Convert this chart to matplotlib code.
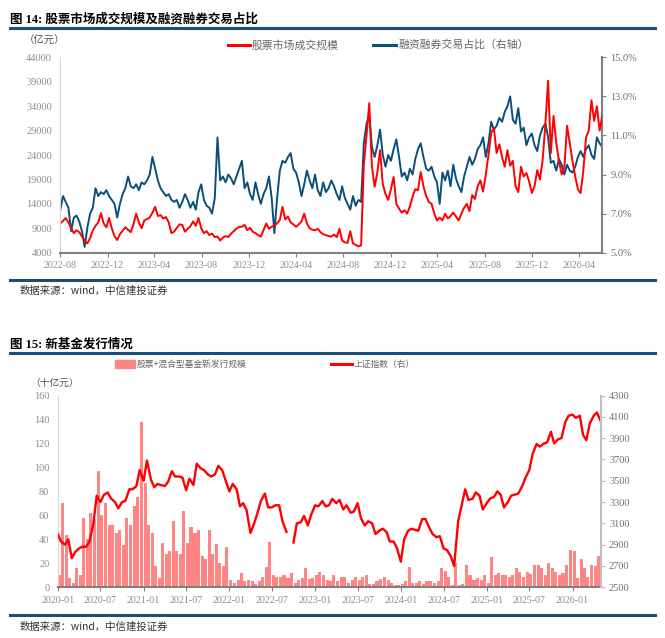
import numpy as np
import pandas as pd
import matplotlib
matplotlib.use('Agg')
import matplotlib.pyplot as plt
import matplotlib.dates as mdates
from matplotlib.lines import Line2D
from matplotlib.patches import Rectangle
from matplotlib.ticker import FuncFormatter

plt.rcParams['font.family'] = ['Liberation Serif', 'Noto Sans CJK SC']

# ---- 图14: weekly readings from 2022-08-01 ----
turnover = [  # 股票市场成交规模, 亿元
    10000, 10500, 11100, 10200, 9000, 8000, 8600, 8200, 7300, 6400,
    5900, 7000, 8600, 9500, 10200, 12100, 10000, 9200, 11100, 9000,
    7400, 6600, 7800, 8500, 9200, 8700, 8200, 9800, 12000, 10200,
    9000, 10600, 10900, 11200, 12200, 13400, 11500, 11700, 11000, 11300,
    10200, 8000, 8300, 9100, 9800, 9700, 8300, 8900, 9400, 10400,
    9500, 11100, 9000, 8000, 8400, 7600, 7900, 7200, 7300, 6500,
    7100, 7400, 7200, 7900, 8400, 8900, 9300, 9300, 9700, 8600,
    9100, 8300, 8000, 7600, 7300, 8600, 10000, 8900, 9300, 9600,
    10000, 10700, 13400, 10800, 11400, 10200, 9800, 9300, 9800, 10400,
    12000, 10000, 9000, 8700, 8600, 8900, 8200, 7800, 7600, 7400,
    7300, 7700, 7200, 8900, 6500, 6100, 6000, 8400, 5900, 5600,
    5300, 5500, 22000, 28000, 34600, 21600, 17500, 20500, 25000, 18000,
    16000, 14800, 17000, 19500, 14000, 13000, 12200, 12700, 12000, 13500,
    15500, 17000, 16800, 20500, 17600, 15600, 14400, 14000, 12000, 10600,
    11200, 10600, 12000, 11000, 11500, 12200, 11400, 10600, 12000, 13200,
    14000, 12500, 15800, 15000, 17600, 18800, 16500, 20000, 24000, 28500,
    29500, 24400, 26200, 23600, 21600, 25000, 21800, 22800, 17600, 16400,
    21600, 19600, 20300, 18600, 16200, 17600, 20900, 19000, 23000, 30400,
    39200, 24400, 32000, 26500, 22800, 20000, 21500, 30000, 26400, 22800,
    19600, 17000, 16200, 20800, 27600, 29000, 35200, 31000, 34000, 29000,
    32000,
]
margin_share = [  # 融资融券交易占比, %
    7.2, 7.9, 7.6, 7.3, 6.1, 6.8, 6.9, 6.6, 6.1, 5.3,
    6.3, 7.0, 7.3, 8.3, 7.9, 8.1, 8.0, 8.2, 7.9, 7.7,
    7.5, 6.8, 7.5, 8.0, 8.3, 8.9, 8.4, 8.3, 8.5, 8.2,
    8.6, 8.5, 8.7, 9.0, 9.9, 9.3, 8.7, 8.3, 8.1, 7.9,
    8.0, 7.7, 7.6, 7.7, 7.3, 7.6, 8.0, 7.7, 7.3, 7.6,
    7.2, 8.1, 8.5, 7.7, 7.4, 7.3, 7.0, 7.8, 10.9, 8.7,
    8.9, 8.6, 9.0, 8.8, 8.5, 8.9, 9.3, 9.7, 8.3, 8.6,
    8.0, 7.7, 8.6, 8.0, 7.5, 8.0, 8.3, 8.9, 7.8, 6.0,
    7.8, 9.2, 9.7, 9.6, 9.9, 10.1, 9.3, 9.1, 8.6, 7.9,
    8.5, 9.2, 8.7, 8.3, 9.0, 8.2, 7.9, 8.6, 8.1, 8.3,
    8.7, 8.4, 8.0, 7.7, 8.4, 7.8, 7.5, 7.2, 7.9, 7.4,
    7.7, 7.6, 10.6, 11.6, 12.0, 10.4, 9.9, 10.5, 11.3, 10.0,
    9.4, 10.0, 9.7, 10.3, 10.8, 9.9, 8.9, 9.1, 8.7, 9.3,
    9.0, 9.8, 10.3, 10.6, 9.9, 9.3, 9.2, 9.4, 8.9, 8.6,
    7.5, 9.1, 8.7, 9.2, 8.4, 9.5, 8.8, 8.4, 8.1, 8.9,
    9.4, 9.9, 9.5, 9.8, 10.3, 10.5, 10.9, 9.9, 10.6, 11.7,
    11.3, 11.5, 11.9, 11.7, 12.2, 12.5, 13.0, 11.8, 11.6, 12.4,
    11.2, 11.4, 10.5, 10.9, 11.1, 10.5, 10.2, 11.0, 11.4, 11.6,
    10.9, 9.6, 9.7, 9.2, 9.8, 9.5, 9.0, 9.5, 9.2, 9.1,
    9.4, 9.9, 10.2, 9.9, 10.3, 10.5, 10.0, 9.8, 10.9, 10.6,
    10.4,
]
left_ticks_14 = [4000, 9000, 14000, 19000, 24000, 29000, 34000, 39000, 44000]
right_ticks_14 = [5, 7, 9, 11, 13, 15]

# ---- 图15: semi-monthly readings from 2020-01-01 ----
sse = [  # 上证指数
    3000, 2930, 2900, 2950, 2772, 2830, 2866, 2881, 2880, 2928,
    3100, 3360, 3300, 3366, 3390, 3334, 3300, 3240, 3300, 3310,
    3420, 3420, 3450, 3600, 3500, 3690, 3510, 3440, 3470, 3460,
    3450, 3490, 3590, 3540, 3540, 3530, 3410, 3520, 3460, 3660,
    3616, 3600, 3560, 3540, 3560, 3640, 3600, 3510, 3400, 3470,
    3420, 3260, 3290, 3225, 3010, 3090, 3200, 3310, 3380, 3250,
    3250, 3270, 3270, 3120, 3020, np.nan, 2920, 3100, 3110, 3170,
    3080, 3180, 3270, 3260, 3310, 3260, 3270, 3330, 3290, 3320,
    3230, 3270, 3200, 3210, 3290, 3150, 3080, 3120, 3100, 3000,
    3030, 3050, 3020, 2930, 2930, 2870, 2740, 2950, 3030, 3050,
    3040, 3030, 3140, 3140, 3060, 3000, 2970, 2980, 2865, 2850,
    2790, 2700, 3120, 3260, 3420, 3320, 3330, 3390, 3360, 3230,
    3290, 3333, 3350, 3400, 3370, 3250, 3300, 3360, 3370, 3380,
    3450, 3530, 3600, 3750, 3845, 3820, 3850, 3860, 3960, 3850,
    3890, 3900, 4050, 4110, 4120, 4090, 4110, 3930, 3880, 4035,
    4110, 4140, 4060,
]
new_funds = [  # 股票+混合型基金新发行规模, 十亿元
    10, 70, 44, 8, 4, 16, 10, 58, 40, 62,
    57, 97, 60, 70, 52, 52, 45, 48, 35, 58,
    52, 68, 75, 138, 87, 52, 45, 18, 8, 37,
    28, 30, 55, 30, 28, 64, 37, 50, 45, 48,
    26, 24, 48, 28, 36, 20, 18, 34, 6, 4,
    6, 12, 5, 6, 5, 3, 5, 9, 17, 38,
    10, 9, 9, 10, 8, 12, 4, 6, 8, 16,
    7, 8, 10, 13, 10, 6, 5, 10, 5, 9,
    9, 4, 6, 9, 6, 9, 10, 3, 3, 5,
    7, 9, 6, 4, 2, 2, 3, 5, 17, 4,
    4, 5, 3, 5, 5, 4, 5, 16, 14, 9,
    2, 20, 2, 3, 19, 10, 6, 8, 6, 10,
    4, 25, 10, 12, 10, 10, 9, 10, 16, 13,
    9, 13, 11, 19, 19, 16, 10, 20, 16, 13,
    10, 12, 19, 31, 30, 8, 24, 16, 9, 19,
    18, 26,
]
left_ticks_15 = [0, 20, 40, 60, 80, 100, 120, 140, 160]
right_ticks_15 = [2500, 2700, 2900, 3100, 3300, 3500, 3700, 3900, 4100, 4300]

week_dates = pd.date_range('2022-08-01', periods=len(turnover), freq='7D')
half_month = pd.date_range('2020-01-01', periods=len(sse), freq='SMS')

RED = '#ff0000'
BLUE = '#0b4f7c'
PINK = '#ff8585'
RULE = '#1b4f7a'
CN = ['Noto Sans CJK SC', 'DejaVu Sans']

fig = plt.figure(figsize=(6.65, 6.38), dpi=100)
W, H = 665.0, 638.0


def fx(px):
    return px / W


def fy(py):
    return 1 - py / H


def rule(y):
    fig.add_artist(Line2D([fx(10), fx(655)], [fy(y), fy(y)], color=RULE, lw=2.2))


def legend_line(x0, x1, y, color, text, size):
    fig.add_artist(Line2D([fx(x0), fx(x1)], [fy(y), fy(y)], color=color, lw=2.2))
    fig.text(fx(x1 + 2), fy(y), text, family=CN, fontsize=size, color='#666666', va='center')


def style(ax_l, ax_r, right_color):
    for s in ['top', 'right']:
        ax_l.spines[s].set_visible(False)
    ax_l.spines['left'].set_color('#d9d9d9')
    ax_l.spines['bottom'].set_color('#808080')
    ax_l.spines['bottom'].set_linewidth(1.5)
    for s in ['top', 'left', 'bottom']:
        ax_r.spines[s].set_visible(False)
    ax_r.spines['right'].set_color(right_color)
    ax_r.spines['right'].set_linewidth(1.5)
    ax_l.tick_params(axis='y', length=0, labelsize=7.5, labelcolor='#8c8c8c', pad=6)
    ax_l.tick_params(axis='x', length=3, color='#808080', labelsize=7.2,
                     labelcolor='#8c8c8c', pad=3)
    ax_r.tick_params(axis='y', length=3, color=right_color, labelsize=7.5,
                     labelcolor='#707070', pad=3)


# ---------------- 图14 ----------------
fig.text(fx(10), fy(19), '图 14: 股票市场成交规模及融资融券交易占比', fontsize=9,
         fontweight='bold', va='center')
rule(28)
fig.text(fx(24), fy(41), '（亿元）', family=CN, fontsize=7.5, color='#555555', va='center')

ax1 = fig.add_axes([fx(60.3), fy(252.7), fx(602.3 - 60.3), (252.7 - 57.3) / H])
ax2 = ax1.twinx()
ax2.plot(week_dates, margin_share, color=BLUE, lw=1.4)
ax1.plot(week_dates, turnover, color=RED, lw=1.4)
ax1.set_zorder(ax2.get_zorder() + 1)
ax1.patch.set_visible(False)

ax1.set_ylim(4000, 44000)
ax1.set_yticks(left_ticks_14)
ax2.set_ylim(5, 15)
ax2.set_yticks(right_ticks_14)
ax2.yaxis.set_major_formatter(FuncFormatter(lambda v, p: f'{v:.1f}%'))
ax1.set_xlim(pd.Timestamp('2022-08-01'), week_dates[-1])
ax1.xaxis.set_major_locator(mdates.MonthLocator(bymonth=[4, 8, 12]))
ax1.xaxis.set_major_formatter(mdates.DateFormatter('%Y-%m'))
style(ax1, ax2, '#808080')

legend_line(228, 250, 45, RED, '股票市场成交规模', 7.8)
legend_line(373, 396, 45, BLUE, '融资融券交易占比（右轴）', 7.8)

rule(280)
fig.text(fx(20), fy(291), '数据来源：wind，中信建投证券', family=CN, fontsize=7.5,
         color='#333333', va='center', style='italic')

# ---------------- 图15 ----------------
fig.text(fx(10), fy(345), '图 15: 新基金发行情况', fontsize=9, fontweight='bold', va='center')
rule(353)
fig.text(fx(30), fy(383), '（十亿元）', family=CN, fontsize=7, color='#555555', va='center')

ax3 = fig.add_axes([fx(57.7), fy(587.3), fx(600.7 - 57.7), (587.3 - 395.5) / H])
ax3.bar(half_month[:len(new_funds)], new_funds, width=13, align='edge', color=PINK, lw=0)
ax4 = ax3.twinx()
ax4.plot(half_month, sse, color=RED, lw=1.7)

ax3.set_ylim(0, 160)
ax3.set_yticks(left_ticks_15)
ax4.set_ylim(2500, 4300)
ax4.set_yticks(right_ticks_15)
ax3.set_xlim(pd.Timestamp('2020-01-01'), pd.Timestamp('2026-05-01'))
ax3.xaxis.set_major_locator(mdates.MonthLocator(bymonth=[1, 7]))
ax3.xaxis.set_major_formatter(mdates.DateFormatter('%Y-%m'))
style(ax3, ax4, '#c0c0c0')

fig.add_artist(Rectangle((fx(115), fy(368)), fx(20), 8 / H, color=PINK))
fig.text(fx(137), fy(364), '股票+混合型基金新发行规模', family=CN, fontsize=6.3,
         color='#666666', va='center')
legend_line(331, 352, 364, RED, '上证指数（右）', 6.3)

rule(615)
fig.text(fx(20), fy(627), '数据来源：wind，中信建投证券', family=CN, fontsize=7.5,
         color='#333333', va='center', style='italic')

fig.savefig('out.png', dpi=100)
